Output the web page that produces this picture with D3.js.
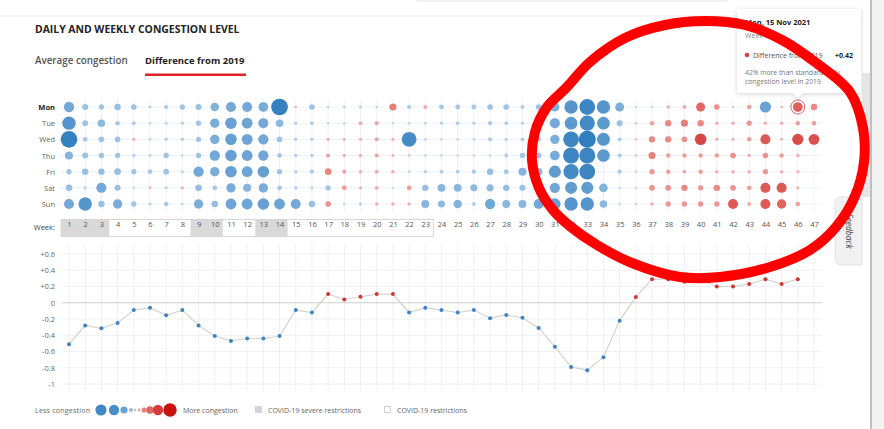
<!DOCTYPE html>
<html>
<head>
<meta charset="utf-8">
<script src="https://cdn.jsdelivr.net/npm/d3@7"></script>
<style>
  body { margin: 0; background: #fff; }
  svg { display: block; font-family: "Open Sans", "DejaVu Sans", sans-serif; }
</style>
</head>
<body>
<svg id="chart" width="884" height="429"></svg>
<script>
// --- data ---
var weeks = [1,2,3,4,5,6,7,8,9,10,11,12,13,14,15,16,17,18,19,20,21,22,23,24,25,26,27,28,29,30,31,32,33,34,35,36,37,38,39,40,41,42,43,44,45,46,47];
var days = ["Mon","Tue","Wed","Thu","Fri","Sat","Sun"];

// daily difference from 2019, one list per weekday (null = no data)
var mon = [-0.45,-0.22,-0.18,-0.24,-0.2,-0.05,-0.12,-0.18,-0.22,-0.36,-0.44,-0.44,-0.42,-0.8,0.04,-0.2,-0.03,-0.05,-0.06,-0.03,0.28,-0.12,0.1,-0.16,-0.16,-0.16,-0.2,-0.2,-0.1,-0.2,-0.38,-0.62,-0.75,-0.62,-0.38,-0.02,-0.02,0.08,0.1,0.38,0.2,-0.02,0.14,-0.5,0.04,0.42,0.24];
var tue = [-0.62,-0.2,-0.3,-0.14,-0.1,-0.03,-0.05,-0.07,-0.18,-0.4,-0.52,-0.48,-0.44,-0.3,-0.08,-0.1,-0.03,-0.03,0.1,0.12,-0.02,-0.03,-0.04,-0.07,-0.1,-0.07,-0.12,-0.1,-0.07,-0.15,-0.44,-0.58,-0.72,-0.58,-0.22,0.03,0.14,0.24,0.28,0.24,0.08,0.08,0.18,0.08,0.08,0.14,0.14];
var wed = [-0.8,-0.15,-0.2,-0.2,0.07,-0.03,-0.08,-0.08,-0.18,-0.4,-0.52,-0.48,-0.45,-0.2,-0.08,-0.08,0.07,0.06,0.07,0.12,0.06,-0.7,-0.04,-0.03,-0.04,-0.05,-0.12,-0.07,-0.1,-0.15,-0.4,-0.75,-0.82,-0.6,-0.1,0.04,0.24,0.24,0.2,0.52,0.08,0.06,0.14,0.44,0.05,0.5,0.48];
var thu = [-0.33,-0.22,-0.18,-0.18,-0.08,-0.05,-0.18,-0.03,-0.18,-0.45,-0.52,-0.48,-0.45,-0.15,-0.08,-0.08,0.12,0.07,0.08,0.12,0.06,0.04,-0.04,-0.04,-0.04,-0.04,-0.04,-0.1,-0.18,-0.2,-0.42,-0.76,-0.76,-0.58,-0.12,0.04,0.28,0.14,0.14,0.14,0.14,0.2,0.08,0.2,0.14,0.08,null];
var fri = [-0.18,-0.24,-0.24,-0.25,-0.18,-0.15,-0.2,-0.05,-0.45,-0.4,-0.52,-0.48,-0.52,-0.18,-0.08,-0.12,0.25,0.12,0.08,0.1,0.08,-0.04,-0.07,-0.1,-0.1,-0.12,-0.24,-0.16,-0.33,-0.3,-0.55,-0.72,-0.75,null,-0.12,0.02,0.18,0.14,0.1,0.14,0.08,0.08,0.08,0.18,0.08,0.06,null];
var sat = [-0.25,-0.07,-0.44,-0.22,-0.03,0.05,-0.05,0.07,-0.25,-0.15,-0.4,-0.33,-0.4,-0.15,-0.08,-0.05,-0.18,0.15,0.07,0.1,-0.02,0.15,-0.24,-0.32,-0.32,-0.28,-0.28,-0.24,-0.22,-0.25,-0.45,-0.55,-0.55,-0.36,-0.02,0.02,0.2,0.2,0.24,0.18,0.24,0.2,0.14,0.44,0.44,0.06,null];
var sun = [-0.44,-0.62,-0.24,-0.4,-0.18,-0.05,-0.14,-0.03,-0.4,-0.25,-0.48,-0.48,-0.52,-0.48,-0.44,-0.24,0.2,-0.03,-0.07,0.08,0.07,0.08,-0.32,-0.28,-0.35,-0.1,-0.45,-0.32,-0.32,-0.44,-0.52,-0.62,-0.62,-0.3,-0.02,0.02,0.08,0.18,0.18,0.18,0.18,0.44,0.1,0.44,0.4,0.14,null];

// weekly average difference (weeks 1..46)
var weekly = [-0.51,-0.28,-0.315,-0.25,-0.09,-0.06,-0.155,-0.09,-0.28,-0.41,-0.47,-0.44,-0.44,-0.41,-0.09,-0.12,0.107,0.04,0.074,0.107,0.107,-0.12,-0.06,-0.09,-0.12,-0.09,-0.19,-0.15,-0.185,-0.31,-0.54,-0.79,-0.83,-0.67,-0.22,0.07,0.29,0.29,0.26,0.28,0.2,0.2,0.23,0.29,0.23,0.29];

var severeWeeks = [[1,3],[9,10],[13,14]];
var restrictionWeeks = [1,23];
var yTicks = [0.6,0.4,0.2,0,-0.2,-0.4,-0.6,-0.8,-1];

// hand-drawn red ring that sits over the screenshot (not data)
var annotation = [[705,21],[745,25],[782,40],[815,62],[850,92],[863,128],[864,162],[855,196],[836,227],[810,250],[770,267],[720,277],[680,277],[632,263],[597,245],[571,227],[553,210],[539,188],[532,160],[535,132],[547,107],[566,88],[590,62],[625,38],[665,25]];

var dayValues = [mon, tue, wed, thu, fri, sat, sun];

// --- scales ---
var svg = d3.select("#chart");
var x = d3.scaleLinear().domain([1, 47]).range([69, 814]);
var row = d3.scalePoint().domain(days).range([107, 204]);
var y = d3.scaleLinear().domain([-1, 0.6]).range([384, 254]);
var r = d3.scaleLinear().domain([0, 0.85]).range([1, 8.8]);
var blue = d3.scaleLinear().domain([0, 0.85]).range(["#bcd6ef", "#1b70b8"]);
var red = d3.scaleLinear().domain([0, 0.55]).range(["#f6bcb7", "#d3302c"]);
function dotColor(v) { return v < 0 ? blue(-v) : red(v); }

// page bits
svg.append("rect").attr("x", 417).attr("y", -4).attr("width", 310).attr("height", 5)
  .attr("fill", "#fff").attr("stroke", "#e3e3e3");
svg.append("line").attr("x1", 0).attr("x2", 862).attr("y1", 16).attr("y2", 16)
  .attr("stroke", "#f0f0f0");

// title and tabs
svg.append("text").attr("x", 35).attr("y", 33).text("DAILY AND WEEKLY CONGESTION LEVEL")
  .attr("font-size", 10.4).attr("font-weight", 700).attr("fill", "#222");
svg.append("text").attr("x", 35).attr("y", 64).text("Average congestion")
  .attr("font-size", 9.8).attr("font-weight", 600).attr("fill", "#555");
svg.append("text").attr("x", 145).attr("y", 64).text("Difference from 2019")
  .attr("font-size", 9.5).attr("font-weight", 700).attr("fill", "#222");
svg.append("rect").attr("x", 145).attr("y", 73.5).attr("width", 101).attr("height", 2.5)
  .attr("fill", "#e2232a");

// --- dot matrix ---
var matrix = svg.append("g");
matrix.selectAll(".hgrid").data(days).enter().append("line")
  .attr("x1", 60).attr("x2", 822)
  .attr("y1", function(d) { return row(d); }).attr("y2", function(d) { return row(d); })
  .attr("stroke", "#eef2f6");
matrix.selectAll(".vgrid").data(weeks).enter().append("line")
  .attr("x1", function(d) { return x(d); }).attr("x2", function(d) { return x(d); })
  .attr("y1", 99).attr("y2", 212)
  .attr("stroke", "#eef2f6");

svg.selectAll(".day").data(days).enter().append("text")
  .attr("x", 55).attr("y", function(d) { return row(d) + 3; })
  .attr("text-anchor", "end").attr("font-size", 7.5)
  .attr("font-weight", function(d) { return d == "Mon" ? 700 : 400; })
  .attr("fill", function(d) { return d == "Mon" ? "#222" : "#666"; })
  .text(function(d) { return d; });

var cells = [];
dayValues.forEach(function(vals, i) {
  vals.forEach(function(v, j) {
    if (v !== null) cells.push({ day: days[i], week: weeks[j], value: v });
  });
});

matrix.selectAll("circle.dot").data(cells).enter().append("circle")
  .attr("class", "dot")
  .attr("cx", function(d) { return x(d.week); })
  .attr("cy", function(d) { return row(d.day); })
  .attr("r", function(d) { return r(Math.abs(d.value)); })
  .attr("fill", function(d) { return dotColor(d.value); })
  .attr("fill-opacity", 0.92);

// highlighted cell (Mon, week 46)
var hl = cells.find(function(d) { return d.day == "Mon" && d.week == 46; });
matrix.append("circle").attr("cx", x(hl.week)).attr("cy", row(hl.day))
  .attr("r", r(hl.value) + 2.2).attr("fill", "none")
  .attr("stroke", "#e0625d").attr("stroke-width", 1);

// week labels with restriction boxes
var wk = svg.append("g");
wk.append("rect").attr("x", x(restrictionWeeks[0]) - 8).attr("y", 219.5)
  .attr("width", x(restrictionWeeks[1]) - x(restrictionWeeks[0]) + 16).attr("height", 17)
  .attr("fill", "#fff").attr("stroke", "#d6d6d6");
wk.selectAll(".sev").data(severeWeeks).enter().append("rect")
  .attr("x", function(d) { return x(d[0]) - 8; }).attr("y", 220)
  .attr("width", function(d) { return x(d[1]) - x(d[0]) + 16; }).attr("height", 16)
  .attr("fill", "#d9d9d9");
svg.append("text").attr("x", 55).attr("y", 230).attr("text-anchor", "end")
  .attr("font-size", 7.5).attr("fill", "#444").text("Week:");

var weekAxis = d3.axisBottom(x).tickValues(weeks).tickSize(0).tickPadding(0)
  .tickFormat(function(d) { return d; });
svg.append("g").attr("transform", "translate(0,222)").call(weekAxis)
  .call(function(g) { g.select(".domain").remove(); })
  .selectAll("text").attr("font-size", 7.5).attr("fill", "#555")
  .attr("font-family", "\"Open Sans\", sans-serif");

// --- weekly line ---
var line = svg.append("g");
line.selectAll(".lv").data(weeks).enter().append("line")
  .attr("x1", function(d) { return x(d); }).attr("x2", function(d) { return x(d); })
  .attr("y1", y(0.72)).attr("y2", y(-1.08))
  .attr("stroke", "#f0f0f0");
line.selectAll(".lh").data(yTicks).enter().append("line")
  .attr("x1", 62).attr("x2", 822)
  .attr("y1", function(d) { return y(d); }).attr("y2", function(d) { return y(d); })
  .attr("stroke", function(d) { return d == 0 ? "#cfcfcf" : "#f0f0f0"; })
  .attr("stroke-width", function(d) { return d == 0 ? 1.2 : 1; });

var yAxis = d3.axisLeft(y).tickValues(yTicks).tickSize(0).tickPadding(0)
  .tickFormat(function(d) { return d > 0 ? "+" + d : d; });
svg.append("g").attr("transform", "translate(55,0)").call(yAxis)
  .call(function(g) { g.select(".domain").remove(); })
  .selectAll("text").attr("font-size", 7.5).attr("fill", "#666")
  .attr("font-family", "\"Open Sans\", sans-serif");

var path = d3.line().x(function(d, i) { return x(weeks[i]); }).y(function(d) { return y(d); });
line.append("path").datum(weekly).attr("d", path)
  .attr("fill", "none").attr("stroke", "#d9d2cc").attr("stroke-width", 1.2);
line.selectAll(".pt").data(weekly).enter().append("circle")
  .attr("cx", function(d, i) { return x(weeks[i]); })
  .attr("cy", function(d) { return y(d); })
  .attr("r", 2)
  .attr("fill", function(d) { return d < 0 ? "#3d83c6" : "#cf3631"; });

// --- legend ---
var lg = svg.append("g").attr("font-size", 7).attr("fill", "#666");
lg.append("text").attr("x", 35).attr("y", 412.5).text("Less congestion")
  .attr("textLength", 55);
var legendDots = [-0.5, -0.45, -0.28, -0.1, 0.02, 0.05, 0.17, 0.3, 0.45, 0.62];
var legendX = [101, 114, 124, 131, 135, 139, 144, 150, 158, 170];
lg.selectAll("circle").data(legendDots).enter().append("circle")
  .attr("cx", function(d, i) { return legendX[i]; }).attr("cy", 410)
  .attr("r", function(d) { return r(Math.abs(d)); })
  .attr("fill", function(d) { return d < 0 ? blue(-d + 0.15) : red(d + 0.05); });
lg.append("text").attr("x", 183).attr("y", 412.5).text("More congestion");
lg.append("rect").attr("x", 255).attr("y", 406).attr("width", 7).attr("height", 7).attr("fill", "#d6d6d6");
lg.append("text").attr("x", 268).attr("y", 412.5).text("COVID-19 severe restrictions");
lg.append("rect").attr("x", 384.5).attr("y", 406.5).attr("width", 6).attr("height", 6)
  .attr("fill", "#fff").attr("stroke", "#d0d0d0");
lg.append("text").attr("x", 397).attr("y", 412.5).text("COVID-19 restrictions");

// --- tooltip ---
var defs = svg.append("defs");
var f = defs.append("filter").attr("id", "sh").attr("x", "-20%").attr("y", "-20%")
  .attr("width", "140%").attr("height", "140%");
f.append("feDropShadow").attr("dx", 0).attr("dy", 1).attr("stdDeviation", 2)
  .attr("flood-color", "#000").attr("flood-opacity", 0.18);

var tip = svg.append("g");
tip.append("path")
  .attr("d", "M737,9 H861 V93 H803 L798,98 L793,93 H737 Z")
  .attr("fill", "#fff").attr("filter", "url(#sh)");
tip.append("text").attr("x", 745).attr("y", 25).attr("font-size", 7.5)
  .attr("font-weight", 700).attr("fill", "#222").text("Mon, 15 Nov 2021");
tip.append("text").attr("x", 745).attr("y", 38).attr("font-size", 7)
  .attr("fill", "#888").text("Week 46");
tip.append("circle").attr("cx", 747).attr("cy", 55).attr("r", 2.3).attr("fill", "#d5403b");
tip.append("text").attr("x", 753).attr("y", 57.5).attr("font-size", 7)
  .attr("fill", "#555").text("Difference from 2019");
tip.append("text").attr("x", 853).attr("y", 57.5).attr("font-size", 7)
  .attr("font-weight", 700).attr("text-anchor", "end").attr("fill", "#222").text("+0.42");
tip.append("text").attr("x", 745).attr("y", 75).attr("font-size", 6.8)
  .attr("fill", "#777").text("42% more than standard daily");
tip.append("text").attr("x", 745).attr("y", 84).attr("font-size", 6.8)
  .attr("fill", "#777").text("congestion level in 2019");

// --- right edge: scrollbar + feedback tab ---
svg.append("rect").attr("x", 862).attr("y", 73).attr("width", 8).attr("height", 124).attr("fill", "#e6e6e6");
svg.append("rect").attr("x", 871).attr("y", 0).attr("width", 13).attr("height", 429).attr("fill", "#f3f3f3");
svg.append("line").attr("x1", 871).attr("x2", 871).attr("y1", 0).attr("y2", 429)
  .attr("stroke", "#9a9a9a").attr("stroke-width", 1.2);
svg.append("path").attr("d", "M862,197 H841 Q835,197 835,203 V259 Q835,265 841,265 H862 Z")
  .attr("fill", "#f1f1f1").attr("stroke", "#e2e2e2");
svg.append("text").attr("transform", "translate(846,231) rotate(90)")
  .attr("text-anchor", "middle").attr("font-size", 8.5).attr("font-style", "italic")
  .attr("fill", "#444").text("Feedback");

// --- red annotation ring ---
svg.append("path").datum(annotation)
  .attr("d", d3.line().curve(d3.curveCatmullRomClosed))
  .attr("fill", "none").attr("stroke", "#ff0000").attr("stroke-width", 10);
</script>
</body>
</html>
